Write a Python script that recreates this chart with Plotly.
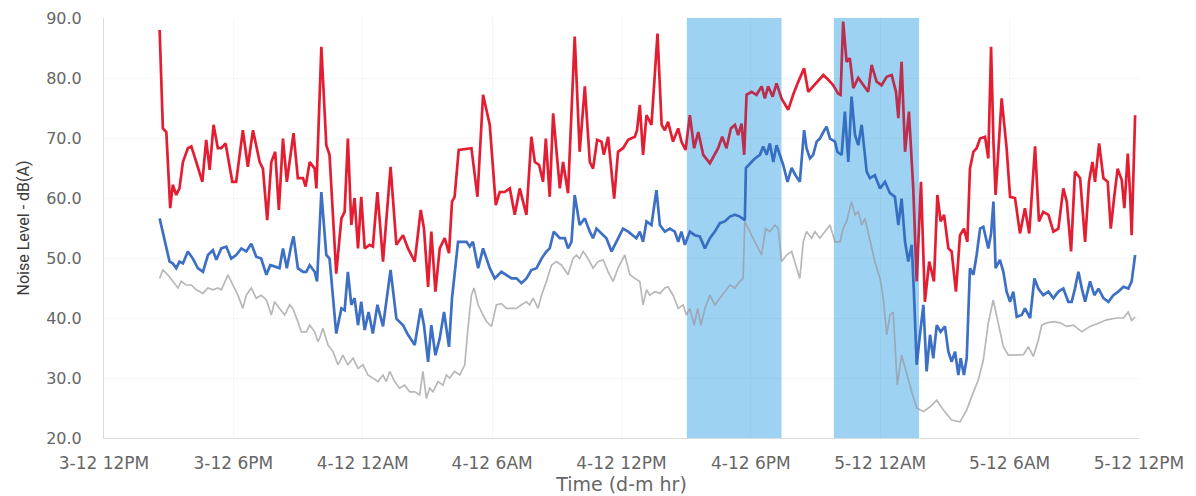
import pandas as pd
import plotly.graph_objects as go

# ---------------- data (hours after 3-12 12PM, dB(A)) ----------------
red_hours = [2.58,2.73,2.89,3.07,3.19,3.35,3.50,3.66,3.89,4.05,4.28,4.56,4.74,4.90,5.08,5.28,5.44,5.64,5.95,6.13,6.44,6.67,6.91,7.22,7.37,7.57,7.76,7.94,8.11,8.30,8.48,8.79,8.99,9.23,9.35,9.54,9.77,9.85,
             10.08,10.31,10.46,10.77,11.01,11.16,11.31,11.47,11.62,11.78,11.93,12.09,12.32,12.47,12.68,12.94,13.29,13.56,13.87,14.10,14.41,14.69,14.84,15.03,15.18,15.37,15.57,15.80,16.00,16.14,16.26,16.45,17.04,17.32,17.58,
             17.89,18.17,18.35,18.58,18.82,19.05,19.28,19.59,19.82,19.98,20.18,20.36,20.49,20.67,20.83,21.14,21.29,21.52,21.83,22.06,22.30,22.53,22.68,22.87,23.07,23.18,23.38,23.66,23.84,24.07,24.31,24.62,24.72,24.85,25.00,25.16,
             25.39,25.67,25.86,26.01,26.16,26.39,26.63,26.78,26.97,27.17,27.37,27.56,27.79,28.10,28.33,28.48,28.67,28.87,29.07,29.26,29.41,29.57,29.69,29.80,30.03,30.26,30.50,30.65,30.80,31.01,31.19,31.42,31.73,31.96,32.20,32.47,32.66,32.89,
             33.05,33.36,33.59,33.82,34.05,34.16,34.28,34.44,34.59,34.75,34.98,35.21,35.44,35.60,35.83,36.06,36.30,36.53,36.73,36.84,36.99,37.15,37.33,37.53,37.69,37.89,38.07,38.27,38.49,38.65,38.80,38.96,39.16,39.31,39.51,39.70,39.88,40.04,40.16,40.32,40.47,40.63,
             40.86,41.01,41.14,41.25,41.35,41.63,41.86,42.02,42.25,42.48,42.71,42.91,43.18,43.36,43.56,43.80,44.03,44.26,44.49,44.65,44.85,45.03,45.27,45.50,45.68,45.84,45.96,46.15,46.35,46.55,46.69,46.86,47.01,47.20,47.32,47.48,47.59,47.66,47.82]
red_levels = [88,71.6,71,58.3,62.2,60.5,61.6,66,68.3,68.6,66,62.7,69.7,64.7,72.2,68.3,68.3,69.1,62.7,62.7,71.3,65.2,71.3,66,64.9,56.3,66,67.7,58,69.9,62.7,70.8,63.3,63.3,61.9,66,64.9,61.6,
              85.2,68.8,67.2,47.4,56.6,57.7,69.9,55.5,60,51.6,60.2,51.6,52.2,51.9,61,49.4,65.2,52.2,53.8,51.6,49.4,58,54.9,45.2,54.4,44.4,51.6,53.3,50.8,59.4,60.2,68,68.3,60.2,77.2,
              72.2,58.8,61,61,61.6,57.2,61.6,57.2,70.2,66,65.5,62.7,69.9,60.2,74.1,61.6,66,60.8,86.9,67.7,78.6,66,64.9,69.7,69.4,67.2,70.2,59.9,67.7,68.3,69.7,70.2,71.3,75.5,67.2,73.8,
              72.2,87.4,72.2,71.3,72.7,69.4,71.6,69.4,68,73.8,68.3,71,67.2,65.8,67.2,68.3,70.2,68.3,71.6,72.2,70.5,72.4,67.2,77.2,77.7,77.2,78.6,76.6,78.6,76.9,79.1,76.6,74.7,77.2,79.4,81.6,77.7,78.6,
              79.4,80.5,79.7,78.8,77.4,77.2,89.4,82.7,83.3,78.3,80,78.8,77.7,82.2,79.4,78.8,80.2,80.5,77.7,73.3,82.7,67.7,74.4,61.6,46.1,62.7,42.7,49.4,46.1,60.5,56.1,57.2,51.6,51.1,44.4,53.8,54.9,52.7,64.9,67.7,68.3,69.9,
              70.2,66.6,85.2,69.4,60.5,76.6,68.3,60.2,60,54.1,58.3,54.1,68.6,56.1,57.7,57.2,54.4,54.9,61.6,59.4,51.1,64.4,63.3,52.7,62.7,66,62.7,69.1,63.3,62.7,54.9,60.5,64.9,63,58.3,67.4,60.5,53.8,73.8]

blue_hours = [2.58,2.73,2.89,3.04,3.19,3.35,3.50,3.66,3.89,4.12,4.35,4.59,4.82,5.05,5.21,5.44,5.67,5.90,6.13,6.37,6.60,6.83,7.06,7.29,7.53,7.71,7.91,8.14,8.30,8.48,8.69,8.79,8.99,9.23,9.38,9.54,9.77,9.88,
              10.08,10.31,10.46,10.77,11.01,11.16,11.31,11.47,11.62,11.78,11.93,12.09,12.27,12.47,12.68,12.94,13.29,13.56,13.87,14.10,14.41,14.69,14.84,15.03,15.18,15.37,15.57,15.77,16.00,16.14,16.42,16.81,16.96,17.11,17.35,17.58,
              17.89,18.12,18.43,18.66,18.90,19.13,19.36,19.59,19.82,20.06,20.29,20.52,20.67,20.86,21.14,21.37,21.52,21.68,21.83,22.06,22.30,22.53,22.68,22.84,23.07,23.30,23.54,23.77,24.07,24.31,24.54,24.69,24.85,25.00,25.16,
              25.39,25.62,25.78,26.01,26.24,26.47,26.63,26.78,26.94,27.17,27.40,27.63,27.87,28.10,28.33,28.56,28.79,29.03,29.26,29.49,29.72,29.77,29.88,30.03,30.19,30.42,30.57,30.73,30.88,31.04,31.19,31.35,31.50,31.70,31.89,32.07,32.27,32.47,32.58,32.74,32.89,
              33.05,33.20,33.36,33.51,33.67,33.90,34.01,34.21,34.36,34.52,34.67,34.83,34.98,35.14,35.37,35.52,35.75,35.99,36.22,36.45,36.68,36.84,36.99,37.15,37.30,37.46,37.56,37.69,37.84,38.00,38.15,38.31,38.46,38.62,38.80,39.00,39.16,39.31,39.47,39.62,39.73,39.88,40.01,40.16,40.32,40.47,40.63,
              40.78,41.01,41.14,41.25,41.35,41.55,41.71,41.86,42.02,42.17,42.33,42.56,42.71,42.95,43.15,43.33,43.56,43.80,44.03,44.26,44.49,44.72,44.88,45.03,45.19,45.35,45.50,45.73,45.93,46.12,46.35,46.58,46.81,47.04,47.28,47.51,47.66,47.82]
blue_levels = [56.6,54.4,51.6,49.4,49.1,48.3,49.4,49.1,51.1,49.9,48.3,47.7,50.5,51.3,49.7,51.6,51.9,49.9,50.5,51.6,51.1,52.4,50.2,49.9,47.2,48.8,48.6,48.3,51.6,48.3,52.2,53.6,48.3,47.7,47.7,48.8,47.7,46.1,
               61,50.5,49.9,37.4,41.6,41.3,47.7,42.2,43.3,38.8,42.7,38,41,37.4,42.2,38.6,48,39.9,38.8,37.2,35.5,41.6,38.8,32.7,38.8,33.8,36.6,41,35.2,43.3,52.7,52.7,51.9,52.7,48.3,51.6,
               48.3,46.6,47.7,47.2,46.6,46.6,45.8,46.6,48,48.3,49.9,51.1,51.6,54.4,53.3,53.3,51.6,52.7,60.5,55.5,56.6,54.4,53.3,54.9,54.1,53.3,51.1,52.7,54.9,54.4,53.8,53.3,54.4,52.7,56.1,
               55.5,61.3,55.5,54.4,54.9,54.4,52.7,54.4,52.2,54.4,53.8,53.6,51.6,53.3,54.4,55.8,56.1,56.9,57.2,56.9,56.3,65,65.5,66,66.6,67.2,68.6,67.2,69.1,66,68.8,67.2,65.5,62.7,65,63.8,62.7,71.3,68.3,66.6,67.2,
               69.4,69.9,71,71.9,69.9,69.4,67.7,67.2,74.4,66,76.9,70.5,68.8,72.2,64.4,63.3,63.8,61.6,62.7,60.8,60.2,55.5,59.9,52.7,49.4,52.2,44.4,32.2,37.2,42.2,31.1,37.2,33.3,38.8,37.7,38.6,34.4,32.7,34.4,30.5,33.3,30.5,33.3,48.3,47.2,50.5,54.9,
               55.2,51.6,54.1,59.4,48.3,49.7,47.7,44.4,42.7,44.4,40.2,40.5,41.6,40,46.6,44.9,43.8,44.4,43.3,44.4,44.9,42.7,42.7,44.9,47.7,44.9,42.7,46.1,43.8,44.9,43.3,42.7,43.8,44.4,45.2,44.9,46.1,50.5]

grey_hours = [2.58,2.73,2.96,3.19,3.43,3.58,3.81,4.05,4.28,4.59,4.82,5.05,5.28,5.44,5.75,5.98,6.21,6.44,6.60,6.83,7.06,7.29,7.53,7.76,7.91,8.14,8.38,8.61,8.76,8.99,9.15,9.38,9.54,9.77,9.92,
              10.00,10.15,10.39,10.62,10.85,11.08,11.31,11.55,11.78,12.01,12.24,12.47,12.71,12.94,13.09,13.25,13.48,13.71,13.94,14.18,14.41,14.64,14.79,14.95,15.10,15.26,15.49,15.72,15.88,16.03,16.26,16.50,16.73,16.88,17.04,17.16,17.35,17.58,
              17.74,17.97,18.20,18.43,18.66,18.90,19.13,19.36,19.59,19.74,19.90,20.13,20.29,20.52,20.75,20.98,21.22,21.52,21.75,21.91,22.06,22.22,22.45,22.68,22.91,23.15,23.38,23.61,23.84,24.15,24.39,24.62,24.85,25.00,25.16,
              25.31,25.55,25.78,26.01,26.16,26.39,26.63,26.86,27.01,27.17,27.37,27.53,27.68,27.87,28.10,28.33,28.56,28.79,29.03,29.26,29.49,29.64,29.72,30.03,30.26,30.50,30.68,30.88,31.11,31.27,31.42,31.66,31.89,32.12,32.27,32.43,32.58,32.82,
              32.97,33.20,33.43,33.67,33.90,34.13,34.28,34.44,34.67,34.83,34.98,35.14,35.29,35.52,35.75,35.99,36.14,36.30,36.45,36.60,36.79,36.99,37.23,37.46,37.69,38.00,38.31,38.62,38.92,39.31,
              39.70,40.01,40.24,40.55,40.78,41.01,41.24,41.48,41.71,41.94,42.33,42.64,42.87,43.10,43.33,43.49,43.72,44.03,44.34,44.65,44.96,45.35,45.73,46.19,46.51,46.97,47.28,47.50,47.66,47.82]
grey_levels = [46.6,48,47.2,46.1,45,46.1,45.5,45.5,44.7,44.1,45,44.7,45,44.7,47.2,45.5,43.8,41.6,43.8,45,43.3,43.8,43,40.5,42.7,41.6,40.5,42.2,41.6,39.4,37.7,37.7,38.8,37.7,36.1,
               36.6,38.3,35.5,34.4,32.2,33.8,32.2,33.3,31.6,32.2,30.5,30,29.4,30.5,29.4,31.1,29.4,28.3,28.8,27.7,27.7,27.2,31.1,26.6,28.3,27.7,29.4,28.8,30.5,30,31.1,30.5,32.2,38.3,43.8,45,42.2,40.5,
               39.4,38.6,42.2,42.4,41.6,41.6,41.6,42.2,42.7,42.2,43.3,41.6,43.8,46.1,48.8,49.4,48.8,47.2,49.9,50.5,49.9,51.1,49.9,48.3,49.4,49.7,47.7,46.1,48.3,50.5,47.2,46.6,46.1,42.2,44.7,
               43.8,44.4,44.1,45,45.2,43.8,41.6,42.2,40.5,41.6,38.8,41.6,38.8,41.6,43.8,42.2,43.3,44.4,45.5,45,46.1,46.6,56.1,53.8,52.2,50.5,54.9,54.4,55.5,54.9,49.4,50.5,51.1,48.3,46.6,52.7,54.4,53.3,
               54.4,53.3,54.4,55.5,52.7,52.7,54.9,56.1,59.4,57.2,57.7,55.5,56.6,52.7,49.4,46.6,43.3,37.2,40.5,41,28.8,33.8,30.5,27.7,25,24.4,25.2,26.3,24.7,23,
               22.7,24.7,26.9,29.7,33,39.2,43,39.2,35.2,33.8,33.8,33.9,35.2,33.6,36.3,38.8,39.2,39.4,39.2,38.6,38.8,37.7,38.6,39.2,39.7,40,40,41,39.6,40.2]

tick_hours = [0, 6, 12, 18, 24, 30, 36, 42, 48]
tick_labels = ["3-12 12PM", "3-12 6PM", "4-12 12AM", "4-12 6AM", "4-12 12PM",
               "4-12 6PM", "5-12 12AM", "5-12 6AM", "5-12 12PM"]
shade_start_hours = [27.03, 33.85]
shade_end_hours = [31.42, 37.80]

# ---------------- build ----------------
assert len(red_hours) == len(red_levels)
assert len(blue_hours) == len(blue_levels)
assert len(grey_hours) == len(grey_levels)

BASE = pd.Timestamp("2019-12-03 12:00")


def to_time(hours):
    return [BASE + pd.Timedelta(hours=h) for h in hours]


fig = go.Figure()
fig.add_trace(go.Scatter(x=to_time(grey_hours), y=grey_levels, mode="lines",
                         line=dict(color="#b8b8b8", width=1.7), showlegend=False))
fig.add_trace(go.Scatter(x=to_time(blue_hours), y=blue_levels, mode="lines",
                         line=dict(color="#3d6fc4", width=2.7), showlegend=False))
fig.add_trace(go.Scatter(x=to_time(red_hours), y=red_levels, mode="lines",
                         line=dict(color="#e41e32", width=2.7), showlegend=False))

for s, e in zip(to_time(shade_start_hours), to_time(shade_end_hours)):
    fig.add_shape(type="rect", xref="x", yref="paper", x0=s, x1=e, y0=0, y1=1,
                  fillcolor="rgb(190,236,255)", line_width=0, layer="below")
    fig.add_shape(type="rect", xref="x", yref="paper", x0=s, x1=e, y0=0, y1=1,
                  fillcolor="rgba(30,110,190,0.2)", line_width=0, layer="above")

tick_font = dict(family="DejaVu Sans", size=16, color="#666666")
fig.update_layout(
    width=1188, height=488,
    margin=dict(l=96, r=57, t=10, b=58),
    paper_bgcolor="white", plot_bgcolor="white",
    xaxis=dict(
        type="date",
        range=[BASE, BASE + pd.Timedelta(hours=48)],
        tickvals=to_time(tick_hours), ticktext=tick_labels,
        tickfont=dict(family="DejaVu Sans", size=17, color="#666666"),
        showgrid=True, gridcolor="rgba(0,0,0,0.03)",
        showline=True, linecolor="#dcdcdc", linewidth=1,
        ticks="", ticklabelstandoff=10, automargin=False,
        zeroline=False,
        title=dict(text="Time (d-m hr)", standoff=4,
                   font=dict(family="DejaVu Sans", size=19, color="#666666")),
    ),
    yaxis=dict(
        range=[20, 90], dtick=10, tickformat=".1f",
        tickfont=tick_font,
        showgrid=True, gridcolor="rgba(0,0,0,0.03)",
        showline=True, linecolor="#dcdcdc", linewidth=1,
        ticks="", ticklabelstandoff=18, automargin=False,
        zeroline=False,
        title=dict(text="Noise Level - dB(A)", standoff=12,
                   font=dict(family="Roboto", size=16, color="#3a3a3a")),
    ),
)

fig.write_html("out.html")
